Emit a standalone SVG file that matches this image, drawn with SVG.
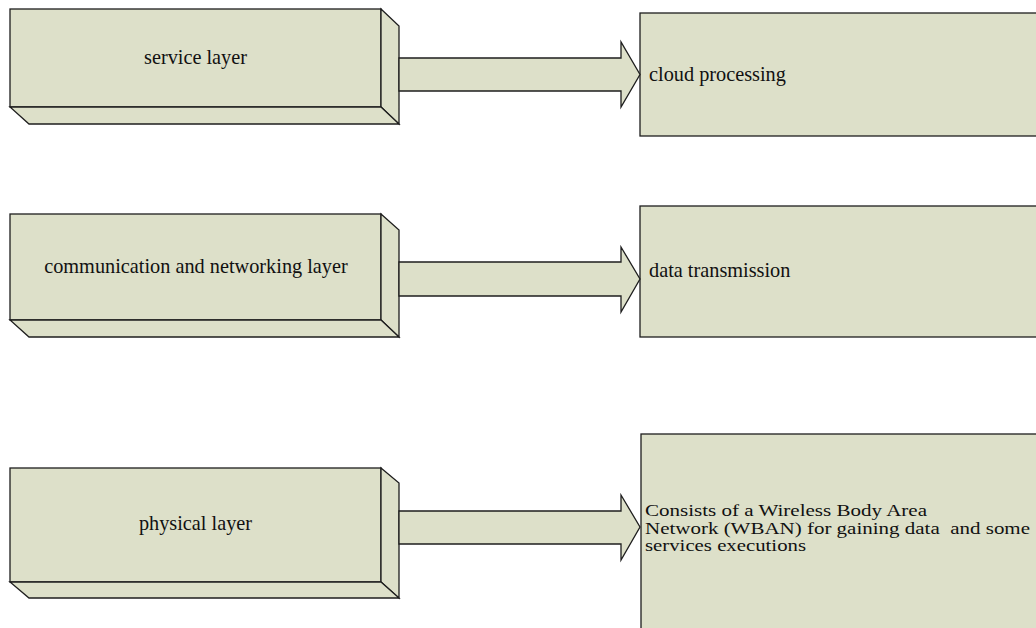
<svg xmlns="http://www.w3.org/2000/svg" width="1036" height="628" viewBox="0 0 1036 628">
<style>
.f{fill:#dde0c9;stroke:#1e1e1e;stroke-width:1.3;stroke-linejoin:miter}
.t{font-family:"Liberation Serif","Times New Roman",serif;font-size:20.3px;fill:#111}
.m{text-anchor:middle}
.b{font-size:16px}
</style>
<rect width="1036" height="628" fill="#ffffff"/>
<g id="service-layer">
<rect class="f" x="10" y="9" width="371" height="98"/>
<polygon class="f" points="381,9 399,26 399,124 381,107"/>
<polygon class="f" points="10,107 381,107 399,124 29,124"/>
<text class="t m" x="195.5" y="64">service layer</text>
</g>
<g id="comm-layer">
<rect class="f" x="10" y="214" width="371" height="106"/>
<polygon class="f" points="381,214 399,230 399,337 381,320"/>
<polygon class="f" points="10,320 381,320 399,337 29,337"/>
<text class="t m" x="196" y="273">communication and networking layer</text>
</g>
<g id="physical-layer">
<rect class="f" x="10" y="468" width="371" height="114"/>
<polygon class="f" points="381,468 399,483 399,598 381,582"/>
<polygon class="f" points="10,582 381,582 399,598 29,598"/>
<text class="t m" x="195.5" y="530">physical layer</text>
</g>
<g id="cloud-processing">
<rect class="f" x="640" y="13" width="410" height="123"/>
<text class="t" x="649" y="81">cloud processing</text>
</g>
<g id="data-transmission">
<rect class="f" x="640" y="206" width="410" height="131"/>
<text class="t" x="649" y="277">data transmission</text>
</g>
<g id="wban">
<rect class="f" x="641" y="434" width="410" height="210"/>
<text class="t b" x="645" y="516" xml:space="preserve"><tspan x="645" y="516" textLength="282" lengthAdjust="spacingAndGlyphs">Consists of a Wireless Body Area</tspan><tspan x="645" y="533.7" textLength="385" lengthAdjust="spacingAndGlyphs">Network (WBAN) for gaining data  and some</tspan><tspan x="645" y="551.4" textLength="161" lengthAdjust="spacingAndGlyphs">services executions</tspan></text>
</g>
<g id="connectors">
<polygon class="f" points="399,58 621,58 621,42 640,74.5 621,107 621,91 399,91"/>
<polygon class="f" points="399,262 621,262 621,247 640,279 621,312 621,296 399,296"/>
<polygon class="f" points="399,511 621,511 621,495 640,527 621,560 621,544 399,544"/>
</g>
</svg>
